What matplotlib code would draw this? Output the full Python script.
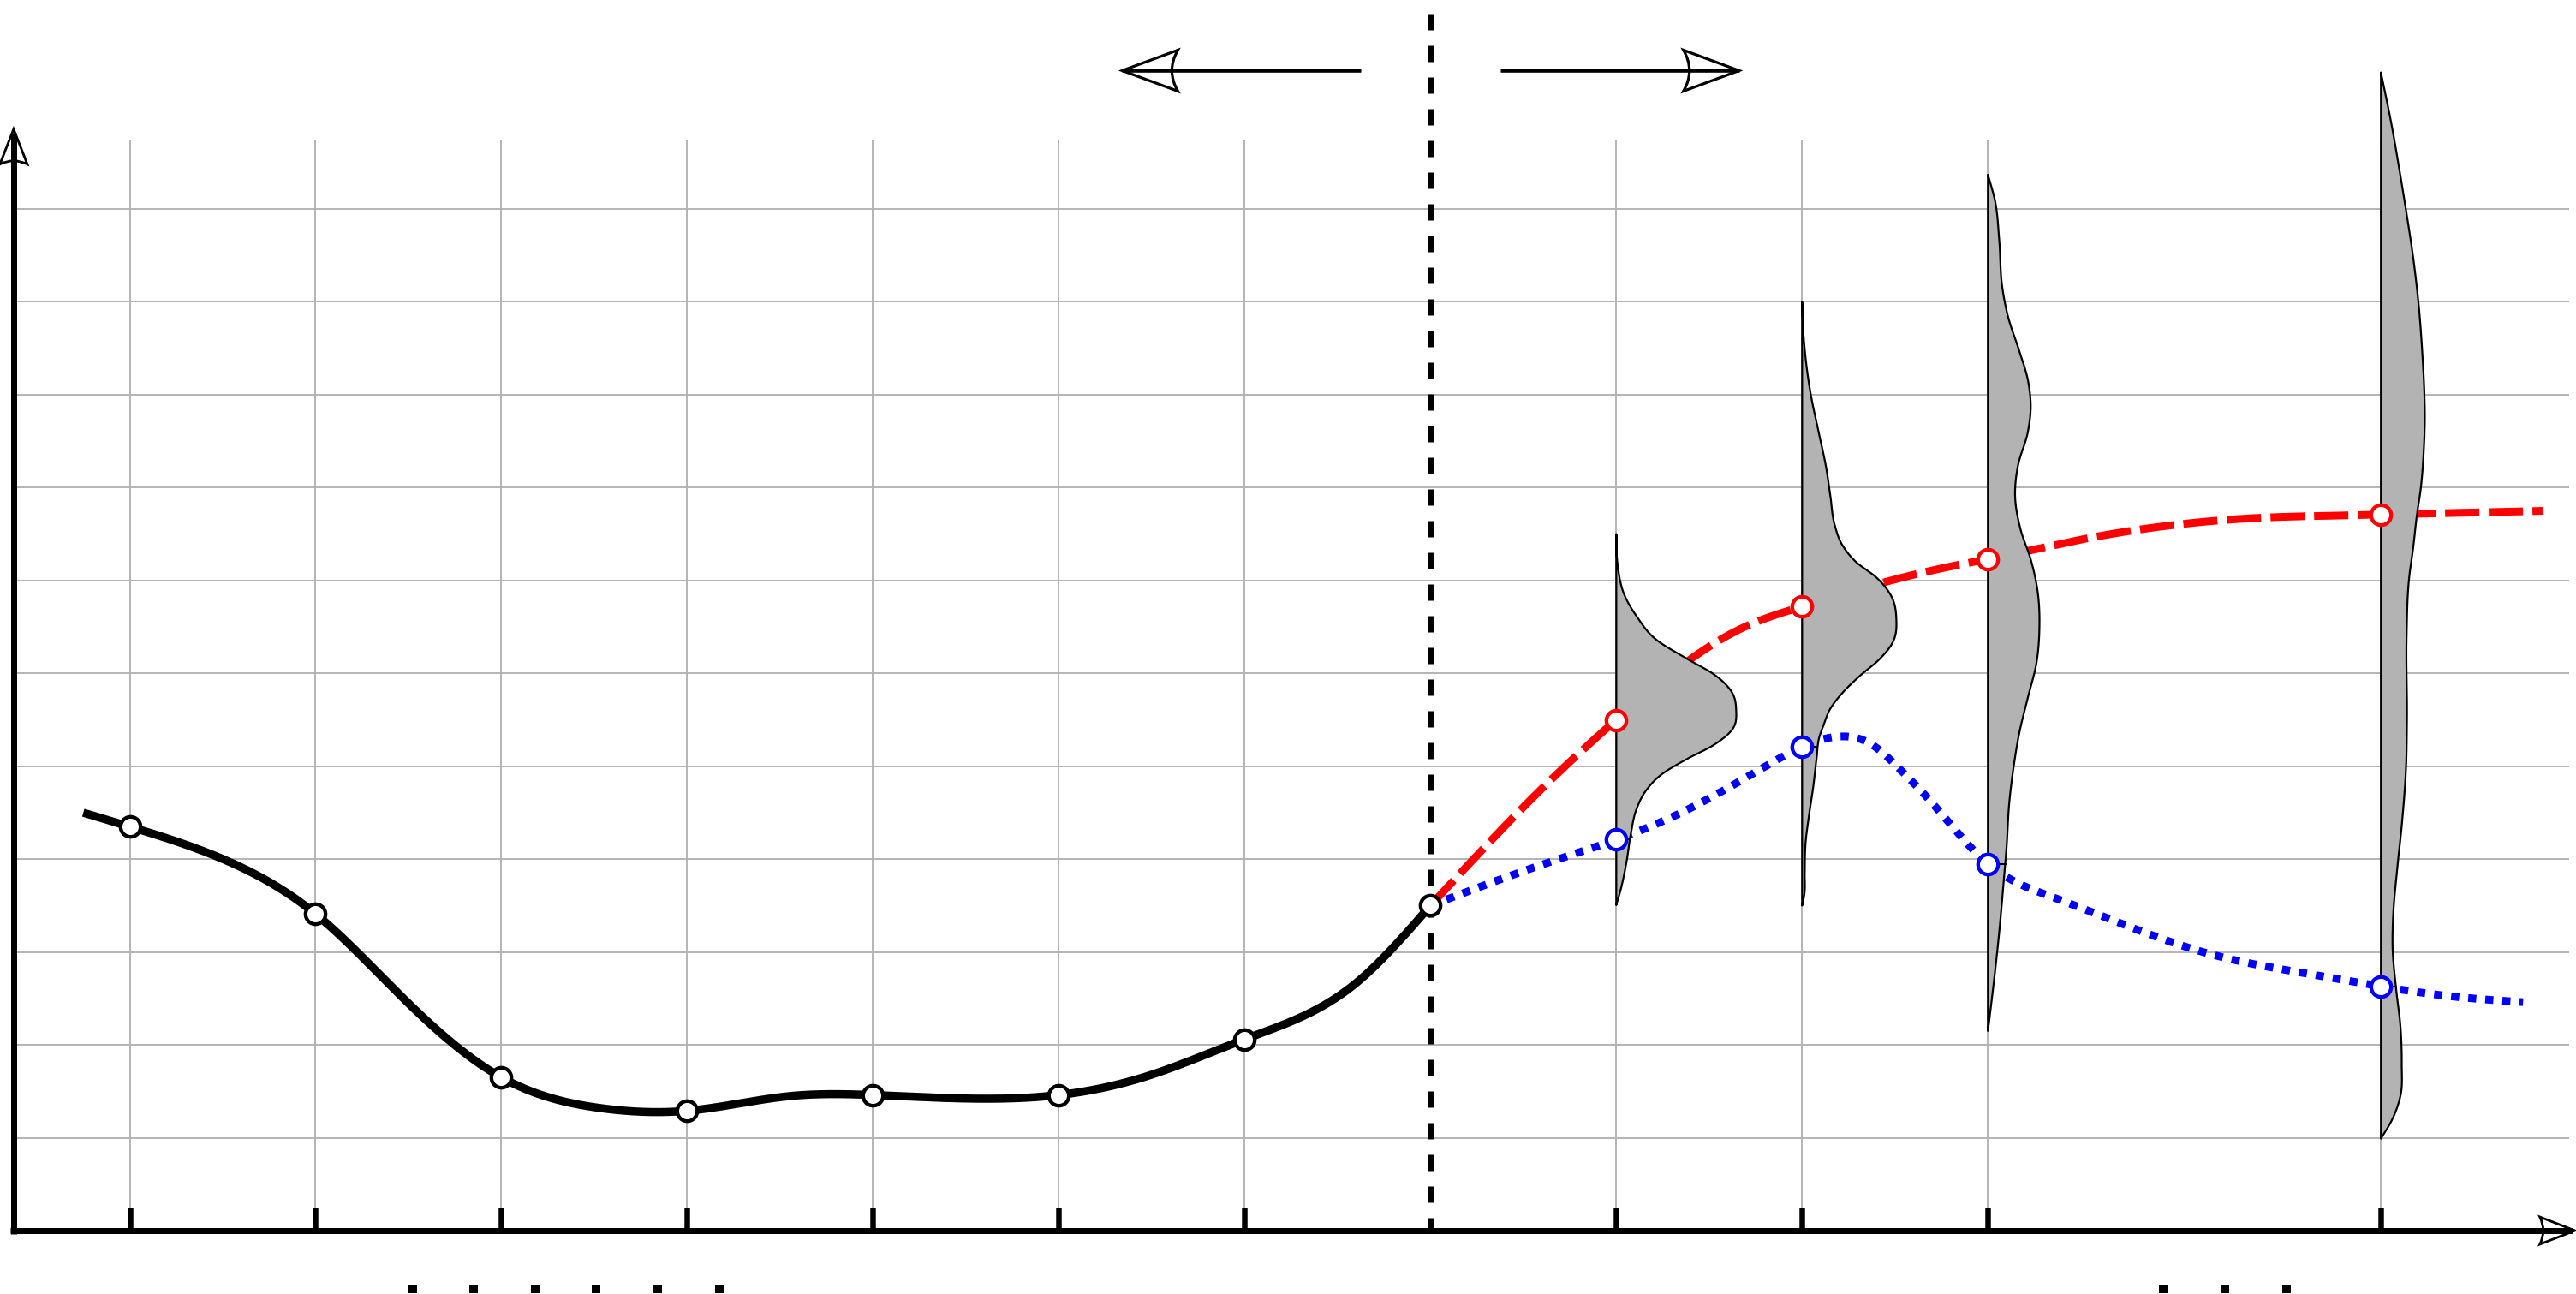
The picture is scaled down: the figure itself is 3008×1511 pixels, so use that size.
import numpy as np
import matplotlib
matplotlib.use("Agg")
import matplotlib.pyplot as plt
from matplotlib.path import Path
from matplotlib.patches import PathPatch, Polygon

plt.rcParams['lines.scale_dashes'] = False

# ---------------- data ----------------
grid_x = [1, 2, 3, 4, 5, 6, 7, 9, 10, 11, 13.115]
grid_y = [1, 2, 3, 4, 5, 6, 7, 8, 9, 10, 11]
split_x = 8

hist_steps = [1, 2, 3, 4, 5, 6, 7, 8]
hist_values = [4.35, 3.41, 1.65, 1.29, 1.46, 1.46, 2.06, 3.50]
hist_trace_x = [0.75, 1.0, 1.537, 2.0, 2.463, 3.0, 3.53, 4.0, 4.56, 5.0, 5.59, 6.0,
                6.47, 7.0, 7.59, 8.0]
hist_trace_y = [4.50, 4.35, 3.97, 3.41, 2.52, 1.65, 1.32, 1.29, 1.45, 1.46, 1.42, 1.46,
                1.66, 2.06, 2.65, 3.50]

fc_steps = [9, 10, 11, 13.115]
fc_high = [5.50, 6.72, 7.23, 7.71]
fc_low = [4.21, 5.21, 3.95, 2.63]

high_trace_x = [8.0, 8.6, 9.0, 9.68, 10.0, 10.44, 10.87, 11.0, 11.565, 12.01,
                12.46, 12.90, 13.115, 13.57, 13.99]
high_trace_y = [3.50, 4.76, 5.50, 6.49, 6.72, 6.98, 7.18, 7.23, 7.465, 7.60,
                7.675, 7.70, 7.71, 7.73, 7.75]
low_trace_x = [8.0, 8.6, 9.0, 9.37, 9.83, 10.0, 10.2, 10.37, 10.52, 10.675, 10.83,
               11.0, 11.35, 11.79, 12.23, 12.68, 13.115, 13.46, 13.88]
low_trace_y = [3.50, 3.94, 4.21, 4.52, 5.03, 5.21, 5.32, 5.24, 4.98, 4.66, 4.30,
               3.95, 3.59, 3.25, 2.96, 2.78, 2.63, 2.53, 2.46]

# forecast densities (level, density width), listed top -> bottom
dist9_y = [7.50, 7.19, 6.82, 6.61, 6.36, 6.15, 5.99, 5.81, 5.61, 5.38, 5.23, 5.07,
           4.92, 4.73, 4.55, 4.27, 3.97, 3.69, 3.505]
dist9_w = [0, 0.006, 0.049, 0.111, 0.217, 0.387, 0.525, 0.618, 0.645, 0.618, 0.525,
           0.373, 0.249, 0.157, 0.111, 0.078, 0.055, 0.026, 0]
dist10_y = [10.0, 9.63, 9.01, 8.57, 8.22, 7.91, 7.60, 7.38, 7.20, 7.03, 6.85, 6.59,
            6.32, 6.15, 5.97, 5.79, 5.62, 5.44, 5.31, 5.09, 4.78, 4.47, 4.16, 3.85,
            3.62, 3.50]
dist10_w = [0, 0.008, 0.046, 0.092, 0.129, 0.152, 0.175, 0.217, 0.290, 0.401, 0.475,
            0.507, 0.484, 0.415, 0.309, 0.217, 0.152, 0.115, 0.092, 0.078, 0.060,
            0.037, 0.018, 0.014, 0.012, 0]
dist11_y = [11.37, 11.09, 10.66, 10.16, 9.85, 9.47, 9.16, 8.85, 8.60, 8.23, 7.92,
            7.54, 7.23, 6.86, 6.48, 6.11, 5.74, 5.36, 4.99, 4.61, 4.12, 3.74, 3.24,
            2.68, 2.15]
dist11_w = [0, 0.038, 0.061, 0.077, 0.107, 0.169, 0.215, 0.230, 0.215, 0.161, 0.146,
            0.177, 0.230, 0.269, 0.277, 0.261, 0.215, 0.169, 0.138, 0.115, 0.100,
            0.084, 0.062, 0.032, 0]
dist13_y = [12.47, 11.91, 11.38, 11.0, 10.50, 9.97, 9.44, 9.0, 8.73, 8.38, 8.0, 7.71,
            7.36, 7.01, 6.39, 5.51, 4.98, 4.36, 3.92, 3.39, 3.04, 2.60, 2.20, 1.80,
            1.45, 1.19, 0.99]
dist13_w = [0, 0.057, 0.103, 0.134, 0.172, 0.203, 0.223, 0.234, 0.236, 0.230, 0.215,
            0.194, 0.174, 0.151, 0.138, 0.140, 0.135, 0.112, 0.089, 0.066, 0.063,
            0.082, 0.105, 0.112, 0.105, 0.059, 0]

dots_left_x = [2.521, 2.850, 3.182, 3.511, 3.843, 4.175]
dots_right_x = [11.943, 12.274, 12.605]

# ---------------- helpers ----------------
PX_X = 216.98   # pixels per x unit
PX_Y = 108.45   # pixels per y unit
PT = 72.0 / 100.0  # points per pixel at dpi 100


def hermite(x, y, xn):
    """Cubic Hermite curve through the knots (three-point tangents)."""
    x = np.asarray(x, float)
    y = np.asarray(y, float)
    xn = np.asarray(xn, float)
    h = np.diff(x)
    d = np.diff(y) / h
    n = len(x)
    m = np.zeros(n)
    for k in range(1, n - 1):
        m[k] = (h[k - 1] * d[k] + h[k] * d[k - 1]) / (h[k - 1] + h[k])
    m[0] = d[0]
    m[-1] = d[-1]
    idx = np.clip(np.searchsorted(x, xn) - 1, 0, n - 2)
    t = (xn - x[idx]) / h[idx]
    h00 = 2 * t**3 - 3 * t**2 + 1
    h10 = t**3 - 2 * t**2 + t
    h01 = -2 * t**3 + 3 * t**2
    h11 = t**3 - t**2
    return h00 * y[idx] + h10 * h[idx] * m[idx] + h01 * y[idx + 1] + h11 * h[idx] * m[idx + 1]


def spline(x, y, xn):
    """Natural cubic spline through the knots."""
    x = np.asarray(x, float)
    y = np.asarray(y, float)
    xn = np.asarray(xn, float)
    n = len(x)
    h = np.diff(x)
    A = np.zeros((n, n))
    r = np.zeros(n)
    A[0, 0] = 1.0
    A[-1, -1] = 1.0
    for i in range(1, n - 1):
        A[i, i - 1] = h[i - 1]
        A[i, i] = 2 * (h[i - 1] + h[i])
        A[i, i + 1] = h[i]
        r[i] = 3 * ((y[i + 1] - y[i]) / h[i] - (y[i] - y[i - 1]) / h[i - 1])
    c = np.linalg.solve(A, r)
    b = (y[1:] - y[:-1]) / h - h * (2 * c[:-1] + c[1:]) / 3
    d = (c[1:] - c[:-1]) / (3 * h)
    idx = np.clip(np.searchsorted(x, xn) - 1, 0, n - 2)
    t = xn - x[idx]
    return y[idx] + b[idx] * t + c[idx] * t**2 + d[idx] * t**3


def smooth(xs, ys, n=900):
    xn = np.linspace(xs[0], xs[-1], n)
    return xn, spline(xs, ys, xn)


def arrow_head(ax, tip, direction, L, W, b, lw, z=6):
    tx, ty = tip
    dx, dy = direction
    nx, ny = -dy, dx

    def P(a, c):
        return (tx + (-a * dx + c * nx) / PX_X, ty + (-a * dy + c * ny) / PX_Y)

    verts = [P(0, 0), P(L, W), P(L - 2 * b, 0), P(L, -W), P(0, 0), P(0, 0)]
    codes = [Path.MOVETO, Path.LINETO, Path.CURVE3, Path.CURVE3, Path.LINETO, Path.CLOSEPOLY]
    ax.add_patch(PathPatch(Path(verts, codes), fill=False, ec='black', lw=lw,
                           joinstyle='miter', zorder=z))


# ---------------- figure ----------------
fig = plt.figure(figsize=(30.08, 15.11), dpi=100)
ax = fig.add_axes([0, 0, 1, 1])
ax.set_xlim(1 - 151.5 / PX_X, 1 + (3008 - 151.5) / PX_X)
ax.set_ylim(-(1511 - 1437) / PX_Y, 1437 / PX_Y)
ax.axis('off')

GRID = '#b3b3b3'
x_axis = 0.375
for gy in grid_y:
    ax.plot([x_axis, 14.13], [gy, gy], color=GRID, lw=1.9 * PT, zorder=0.5,
            solid_capstyle='butt')
for gx in grid_x:
    ax.plot([gx, gx], [0, 11.75], color=GRID, lw=1.9 * PT, zorder=0.5,
            solid_capstyle='butt')

# axes with open arrow heads
AX_LW = 7.0 * PT
x_tip = 14.159
y_tip = 11.86
ax.plot([x_axis - 3.5 / PX_X, x_tip - 3 / PX_X], [0, 0], color='k', lw=AX_LW,
        solid_capstyle='butt', zorder=5)
ax.plot([x_axis, x_axis], [-3.5 / PX_Y, y_tip - 4 / PX_Y], color='k', lw=AX_LW,
        solid_capstyle='butt', zorder=5)
arrow_head(ax, (x_tip, 0), (1, 0), 41, 16, 4, 2.8 * PT)
arrow_head(ax, (x_axis, y_tip), (0, 1), 41, 16, 4, 2.8 * PT)

# ticks
for gx in grid_x:
    ax.plot([gx, gx], [0, 0.25], color='k', lw=6.5 * PT, solid_capstyle='butt', zorder=5)

# split line and direction arrows
ax.plot([split_x, split_x], [13.10, 0], color='k', lw=7 * PT, dashes=(19 * PT, 18 * PT),
        dash_capstyle='butt', zorder=1.5)
ARR_Y = 12.49
ax.plot([7.625, 6.341], [ARR_Y, ARR_Y], color='k', lw=4.6 * PT, solid_capstyle='butt', zorder=5)
ax.plot([8.375, 9.661], [ARR_Y, ARR_Y], color='k', lw=4.6 * PT, solid_capstyle='butt', zorder=5)
arrow_head(ax, (6.341, ARR_Y), (-1, 0), 65, 24, 7, 3.2 * PT)
arrow_head(ax, (9.661, ARR_Y), (1, 0), 65, 24, 7, 3.2 * PT)

# history line
hx, hy = smooth(hist_trace_x, hist_trace_y)
ax.plot(hx, hy, color='k', lw=9.5 * PT, solid_capstyle='butt', zorder=2)

# forecast lines
rx, ry = smooth(high_trace_x, high_trace_y)
ax.plot(rx, ry, color='#ff0000', lw=9 * PT, dashes=(40 * PT, 11 * PT),
        dash_capstyle='butt', zorder=2)
bx, by = smooth(low_trace_x, low_trace_y)
ax.plot(bx, by, color='#0000ff', lw=9 * PT, dashes=(9.5 * PT, 10.5 * PT),
        dash_capstyle='butt', zorder=2)

# densities
dists = [(fc_steps[0], dist9_y, dist9_w), (fc_steps[1], dist10_y, dist10_w),
         (fc_steps[2], dist11_y, dist11_w), (fc_steps[3], dist13_y, dist13_w)]
for (x0, ys, ws), yl in zip(dists, fc_low):
    ys_a = np.asarray(ys[::-1], float)
    ws_a = np.asarray(ws[::-1], float)
    yy = np.linspace(ys_a[0], ys_a[-1], 700)
    ww = np.clip(hermite(ys_a, ws_a, yy), 0, None)
    verts = [(x0, yy[0]), (x0, yy[-1])] + [(x0 + w, y) for y, w in zip(yy[::-1], ww[::-1])]
    ax.add_patch(Polygon(verts, closed=True, fc='#b3b3b3', ec='black', lw=2.2 * PT,
                         joinstyle='round', zorder=3))
    wl = float(hermite(ys_a, ws_a, [yl])[0])
    ax.plot([x0, x0 + wl], [yl, yl], color='k', lw=2.0 * PT, zorder=3.1)

# markers
MS = 16.8
MEW = 3.1
ax.plot(hist_steps, hist_values, 'o', ms=MS, mfc='white', mec='black', mew=MEW, zorder=4,
        linestyle='none')
ax.plot(fc_steps, fc_high, 'o', ms=MS, mfc='white', mec='#ff0000', mew=MEW, zorder=4,
        linestyle='none')
ax.plot(fc_steps, fc_low, 'o', ms=MS, mfc='white', mec='#0000ff', mew=MEW, zorder=4,
        linestyle='none')

# dots below the axis
ax.plot(dots_left_x, [-0.63] * len(dots_left_x), 's', ms=10.5 * PT, mew=0, color='k',
        linestyle='none')
ax.plot(dots_right_x, [-0.63] * len(dots_right_x), 's', ms=10.5 * PT, mew=0, color='k',
        linestyle='none')

fig.savefig('out.png', dpi=100)
